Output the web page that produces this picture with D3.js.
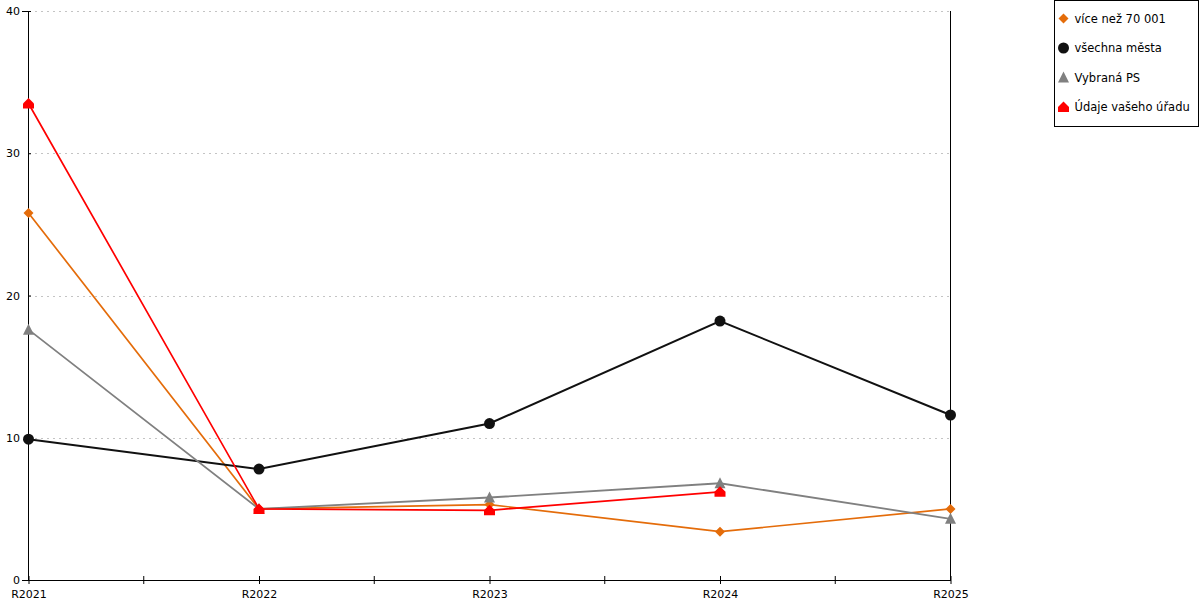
<!DOCTYPE html>
<html lang="cs">
<head>
<meta charset="UTF-8">
<title>Graf</title>
<script src="https://d3js.org/d3.v7.min.js"></script>
<style>
  html, body { margin: 0; padding: 0; background: #fff; }
  svg { display: block; font-family: "DejaVu Sans", Verdana, sans-serif; }
</style>
</head>
<body>
<svg width="1200" height="600"></svg>
<script>
const years = ["R2021", "R2022", "R2023", "R2024", "R2025"];
const yTicks = [0, 10, 20, 30, 40];

const vice70001 = [25.8, 5.0, 5.3, 3.4, 5.0];
const vsechnaMesta = [9.9, 7.8, 11.0, 18.2, 11.6];
const vybranaPS = [17.6, 5.0, 5.8, 6.8, 4.3];
const udajeUradu = [33.5, 5.0, 4.9, 6.2, null];

const series = [
  { name: "více než 70 001", values: vice70001, color: "#e46c0a", width: 1.7, shape: "diamond" },
  { name: "všechna města", values: vsechnaMesta, color: "#111111", width: 2, shape: "circle" },
  { name: "Vybraná PS", values: vybranaPS, color: "#808080", width: 1.8, shape: "triangle" },
  { name: "Údaje vašeho úřadu", values: udajeUradu, color: "#ff0000", width: 1.7, shape: "house" }
];

const svg = d3.select("svg");

const x = d3.scalePoint().domain(years).range([28.5, 950.5]);
const y = d3.scaleLinear().domain([0, 40]).range([580, 11]);

// grid
svg.append("g")
  .selectAll("line")
  .data(yTicks.filter(d => d > 0))
  .enter().append("line")
  .attr("x1", 29).attr("x2", 950)
  .attr("y1", d => Math.round(y(d)) + 0.5)
  .attr("y2", d => Math.round(y(d)) + 0.5)
  .attr("stroke", "#c4c4c4")
  .attr("stroke-dasharray", "2,4");

// right border line
svg.append("line")
  .attr("x1", x("R2025")).attr("x2", x("R2025"))
  .attr("y1", y(40)).attr("y2", y(0))
  .attr("stroke", "#000").attr("stroke-width", 1);

// y axis
const yAxis = svg.append("g")
  .attr("transform", `translate(${Math.floor(x("R2021"))},0)`)
  .call(d3.axisLeft(y).tickValues(yTicks).tickSize(6).tickPadding(2));
yAxis.select(".domain").attr("stroke", "#000");
yAxis.selectAll(".tick line").attr("x2", 3);
yAxis.selectAll("text").attr("font-size", 11).attr("fill", "#000").attr("font-family", "DejaVu Sans, sans-serif");

// x axis
const mids = years.slice(1).map((yr, i) => (x(years[i]) + x(yr)) / 2);
const xAxis = svg.append("g")
  .attr("transform", `translate(0,${y(0)})`)
  .call(d3.axisBottom(x).tickSize(4).tickPadding(6).tickSizeOuter(0));
xAxis.select(".domain").attr("stroke", "#000");
xAxis.selectAll(".tick line").attr("y1", -4);
xAxis.selectAll("text").attr("font-size", 11).attr("fill", "#000").attr("font-family", "DejaVu Sans, sans-serif");
xAxis.selectAll(".mid")
  .data(mids)
  .enter().append("line")
  .attr("class", "mid")
  .attr("x1", d => d).attr("x2", d => d)
  .attr("y1", -4).attr("y2", 4)
  .attr("stroke", "#000");

function shapePath(shape) {
  if (shape === "diamond") return "M0,-5L5,0L0,5L-5,0Z";
  if (shape === "triangle") return "M0,-6L5.5,5L-5.5,5Z";
  if (shape === "house") return "M0,-5.5L5.5,0L5.5,5L-5.5,5L-5.5,0Z";
  return d3.symbol(d3.symbolCircle, 95)();
}

const line = d3.line()
  .defined(d => d.v !== null)
  .x(d => x(d.k))
  .y(d => y(d.v));

series.forEach(s => {
  const pts = years.map((k, i) => ({ k, v: s.values[i] }));
  const g = svg.append("g");
  g.append("path")
    .datum(pts)
    .attr("d", line)
    .attr("fill", "none")
    .attr("stroke", s.color)
    .attr("stroke-width", s.width);
  g.selectAll(".pt")
    .data(pts.filter(d => d.v !== null))
    .enter().append("path")
    .attr("class", "pt")
    .attr("transform", d => `translate(${x(d.k)},${y(d.v)})`)
    .attr("d", shapePath(s.shape))
    .attr("fill", s.color);
});

// legend
const legend = svg.append("g").attr("transform", "translate(1054.5,0.5)");
legend.append("rect")
  .attr("width", 144).attr("height", 126)
  .attr("fill", "#fff").attr("stroke", "#000");
const items = legend.selectAll(".item")
  .data(series)
  .enter().append("g")
  .attr("transform", (d, i) => `translate(9,${18 + i * 29.5})`);
items.append("path")
  .attr("d", d => shapePath(d.shape))
  .attr("fill", d => d.color);
items.append("text")
  .attr("x", 11).attr("y", 4)
  .attr("font-size", 11.5)
  .attr("fill", "#000")
  .text(d => d.name);
</script>
</body>
</html>
